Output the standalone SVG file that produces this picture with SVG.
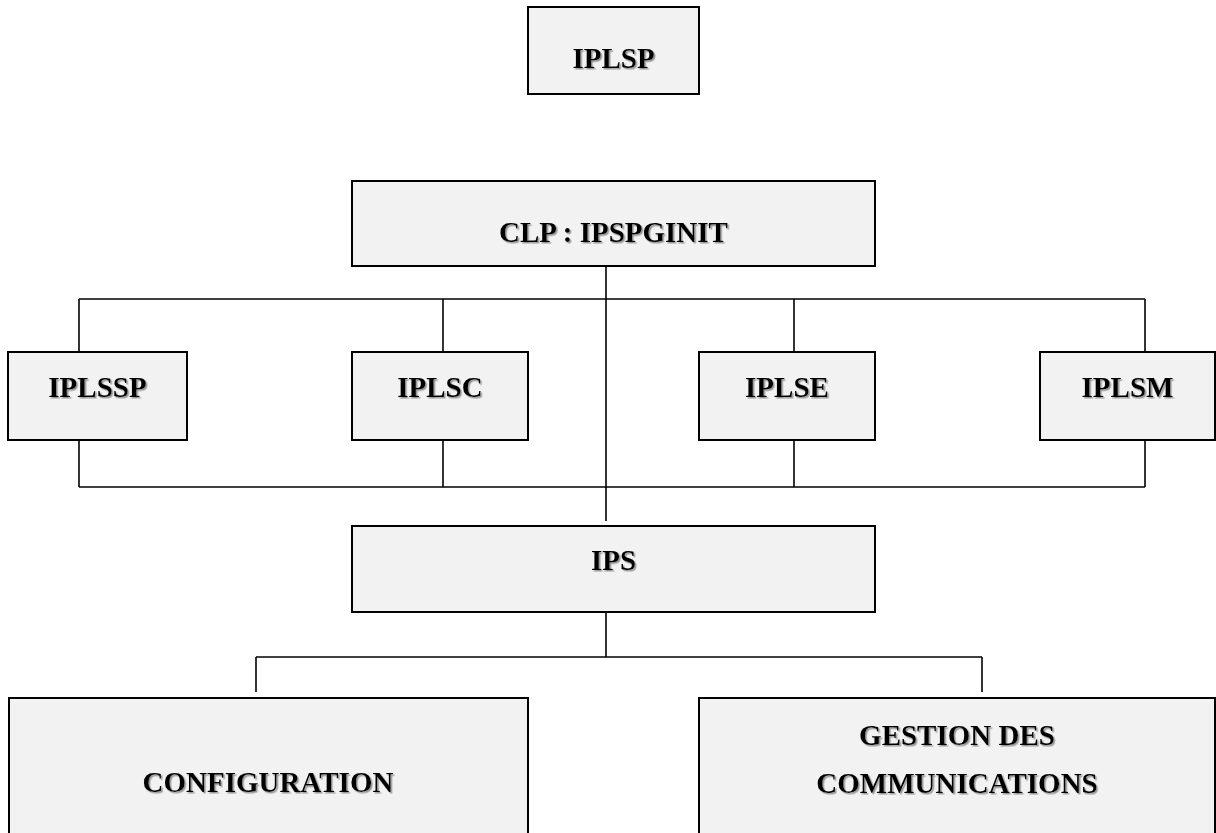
<svg xmlns="http://www.w3.org/2000/svg" width="1216" height="833" viewBox="0 0 1216 833">
<style>
.box{fill:#f2f2f2;stroke:#000;stroke-width:2}
.lbl{font-family:"Liberation Serif","Times New Roman",serif;font-weight:bold;font-size:29px;fill:#000;text-anchor:middle;filter:url(#sh)}
.conn line{stroke:#000;stroke-width:1.6;fill:none}
</style>
<defs>
<filter id="sh" x="-10%" y="-30%" width="120%" height="160%">
<feDropShadow dx="1.5" dy="1.5" stdDeviation="0.7" flood-color="#8a8a8a" flood-opacity="0.9"/>
</filter>
</defs>
<rect width="1216" height="833" fill="#fff"/>
<g id="connectors" class="conn">
<line x1="606" y1="266" x2="606" y2="521"/>
<line x1="79" y1="299" x2="1145" y2="299"/>
<line x1="79" y1="299" x2="79" y2="351"/>
<line x1="443" y1="299" x2="443" y2="351"/>
<line x1="794" y1="299" x2="794" y2="351"/>
<line x1="1145" y1="299" x2="1145" y2="351"/>
<line x1="79" y1="435" x2="79" y2="487"/>
<line x1="443" y1="435" x2="443" y2="487"/>
<line x1="794" y1="435" x2="794" y2="487"/>
<line x1="1145" y1="435" x2="1145" y2="487"/>
<line x1="79" y1="487" x2="1145" y2="487"/>
<line x1="606" y1="606" x2="606" y2="657"/>
<line x1="256" y1="657" x2="982" y2="657"/>
<line x1="256" y1="657" x2="256" y2="692"/>
<line x1="982" y1="657" x2="982" y2="692"/>
</g>
<g id="iplsp"><rect class="box" x="528" y="7" width="171" height="87"/><text class="lbl" x="613.5" y="68">IPLSP</text></g>
<g id="clp"><rect class="box" x="352" y="181" width="523" height="85"/><text class="lbl" x="613.5" y="242">CLP : IPSPGINIT</text></g>
<g id="iplssp"><rect class="box" x="8" y="352" width="179" height="88"/><text class="lbl" x="97.5" y="397">IPLSSP</text></g>
<g id="iplsc"><rect class="box" x="352" y="352" width="176" height="88"/><text class="lbl" x="440" y="397">IPLSC</text></g>
<g id="iplse"><rect class="box" x="699" y="352" width="176" height="88"/><text class="lbl" x="787" y="397">IPLSE</text></g>
<g id="iplsm"><rect class="box" x="1040" y="352" width="175" height="88"/><text class="lbl" x="1127.5" y="397">IPLSM</text></g>
<g id="ips"><rect class="box" x="352" y="526" width="523" height="86"/><text class="lbl" x="613.5" y="570">IPS</text></g>
<g id="configuration"><rect class="box" x="9" y="698" width="519" height="150"/><text class="lbl" x="268" y="792">CONFIGURATION</text></g>
<g id="gestion"><rect class="box" x="699" y="698" width="516" height="150"/><text class="lbl" x="957" y="745">GESTION DES</text><text class="lbl" x="957" y="793">COMMUNICATIONS</text></g>
</svg>
